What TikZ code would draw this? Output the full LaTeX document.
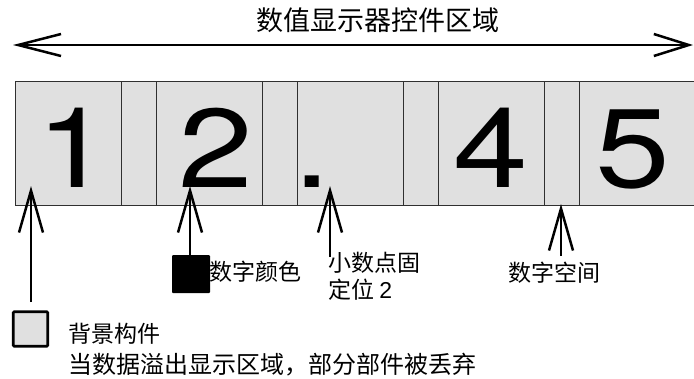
\documentclass[tikz,border=0pt]{standalone}
\usepackage{fontspec}
\usepackage{graphicx}
\setmainfont{Noto Sans CJK SC}
\newfontfamily\latfont{Liberation Sans}
\newfontfamily\digfont{TeX Gyre Heros}
\usetikzlibrary{arrows.meta}
\definecolor{cellgray}{HTML}{E0E0E0}
\definecolor{edgegray}{HTML}{303030}
\newcommand\digwide[1]{\scalebox{1.2}[1]{#1}}
\begin{document}
\begin{tikzpicture}[x=1pt,y=-1pt,
  barb/.style={line width=2.5pt,-{Straight Barb[length=42pt 0,width=24pt 0]}},
  dbarb/.style={line width=2.5pt,{Straight Barb[length=43pt 0,width=22pt 0]}-{Straight Barb[length=35pt 0,width=22pt 0]}},
  stripline/.style={draw=edgegray,line width=1pt},
  divline/.style={draw=edgegray,line width=0.7pt},
  digit/.style={anchor=base,inner sep=0pt,font=\digfont\fontsize{112}{112}\selectfont},
  lbl/.style={anchor=base west,inner sep=0pt,font=\fontsize{23}{26}\selectfont},
  ]
\useasboundingbox (0,0) rectangle (694,378);
% title and range arrow
\node[anchor=base,inner sep=0pt,font=\fontsize{27}{30}\selectfont] (title) at (378,30) {数值显示器控件区域};
\coordinate (la) at (13,45);
\coordinate (ra) at (693,45);
\draw[dbarb] (la) -- (ra);
% strip of cells
\fill[cellgray] (15,81) rectangle (694,205);
\draw[stripline] (694,81) -- (15,81) -- (15,205) -- (694,205);
\foreach \x in {121,156,262,297,403,438,544,579}
  \draw[divline] (\x,81) -- (\x,205);
% digits
\node[digit] (d1) at (73.5,187) {\digwide{1}};
\node[digit] (d2) at (216,187) {\digwide{2}};
\node[digit] (dp) at (312,187) {\digwide{.}};
\node[digit] (d4) at (491,187) {\digwide{4}};
\node[digit] (d5) at (633,187) {\digwide{5}};
% annotations
\node[draw=black,line width=2.6pt,fill=cellgray,rounded corners=1pt,minimum width=34.5pt,minimum height=34.5pt,inner sep=0pt] (leg) at (30.5,329) {};
\node[lbl] (bg) at (68,342) {背景构件};
\node[lbl,font=\fontsize{24}{27}\selectfont] (ovf) at (68,373) {当数据溢出显示区域，部分部件被丢弃};
\node[fill=black,rounded corners=1pt,minimum size=38pt,inner sep=0pt] (colsq) at (191,274) {};
\node[lbl] (coltxt) at (209,280) {数字颜色};
\node[lbl] (dpt1) at (328,271) {小数点固};
\node[lbl] (dpt2) at (328,298) {定位 {\latfont 2}};
\node[lbl] (sp) at (508,281) {数字空间};
% arrows
\coordinate (s1) at (31,302);
\coordinate (t1) at (31,186);
\coordinate (t2) at (190,186);
\coordinate (s3) at (330,257);
\coordinate (t3) at (330,186);
\coordinate (s4) at (561,256);
\coordinate (t4) at (561,204);
\draw[barb] (s1) -- (t1);
\draw[barb] (colsq.north -| t2) -- (t2);
\draw[barb] (s3) -- (t3);
\draw[barb] (s4) -- (t4);
\end{tikzpicture}
\end{document}
